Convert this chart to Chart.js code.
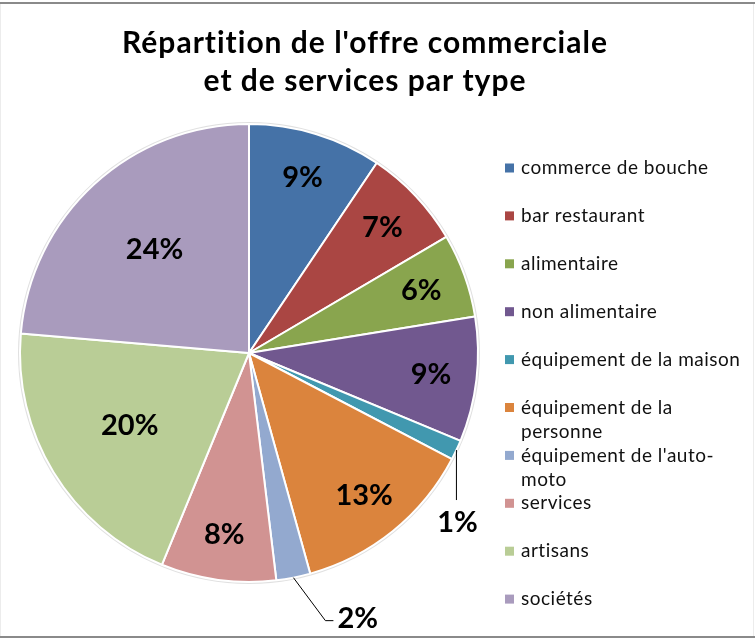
<!DOCTYPE html>
<html lang="fr">
<head>
<meta charset="utf-8">
<title>Répartition de l'offre commerciale et de services par type</title>
<script src="https://cdn.jsdelivr.net/npm/chart.js@4.4.1/dist/chart.umd.min.js"></script>
<style>
  html, body { margin: 0; padding: 0; background: #fff; }
  #wrap { position: relative; width: 755px; height: 639px; }
</style>
</head>
<body>
<div id="wrap"><canvas id="offreChart"></canvas></div>
<script>
const titleLines = ["Répartition de l'offre commerciale", "et de services par type"];
const categories = [
  'commerce de bouche', 'bar restaurant', 'alimentaire', 'non alimentaire',
  'équipement de la maison', 'équipement de la personne', "équipement de l'auto-moto",
  'services', 'artisans', 'sociétés'
];
const shares = [9.4, 7.1, 5.9, 8.8, 1.4, 13.0, 2.4, 8.1, 20.1, 23.6];
const colors = ['#4572A7', '#AA4643', '#89A54E', '#71588F', '#4198AF',
                '#DB843D', '#93A9CF', '#D19392', '#B9CD96', '#A99BBD'];

const FONT = 'Lato, "Open Sans", sans-serif';

// callouts for the thin slices: elbow offset from the rim, then horizontal run
const callouts = {
  4: { dx: 0, dy: 50, run: 0 },
  6: { dx: 32, dy: 43, run: 8 }
};

function pct(i) {
  const total = shares.reduce((a, b) => a + b, 0);
  return Math.round(shares[i] / total * 100) + '%';
}

function wrapText(ctx, text, maxW) {
  const tokens = [];
  text.split(' ').forEach((w, i) => {
    w.split(/(?<=-)/).forEach((p, j) => tokens.push({ text: p, sep: (j === 0 && i > 0) ? ' ' : '' }));
  });
  const lines = [];
  let cur = '';
  tokens.forEach(t => {
    const trial = cur ? cur + t.sep + t.text : t.text;
    if (cur && ctx.measureText(trial).width > maxW) { lines.push(cur); cur = t.text; }
    else cur = trial;
  });
  if (cur) lines.push(cur);
  return lines;
}

const framePlugin = {
  id: 'frame',
  beforeDraw(chart) {
    const ctx = chart.ctx;
    ctx.save();
    ctx.fillStyle = '#fff';
    ctx.fillRect(0, 0, chart.width, chart.height);
    ctx.fillStyle = '#8a8a8a';
    ctx.fillRect(0, 2, chart.width, 2);
    ctx.fillRect(0, chart.height - 3, chart.width, 2);
    ctx.fillStyle = '#ececec';
    ctx.fillRect(0, 4, 1, chart.height - 7);
    ctx.fillRect(chart.width - 2, 4, 1, chart.height - 7);
    ctx.restore();
  }
};

const rimPlugin = {
  id: 'rim',
  beforeDatasetsDraw(chart) {
    const arc = chart.getDatasetMeta(0).data[0];
    if (!arc) return;
    const { x, y, outerRadius } = arc.getProps(['x', 'y', 'outerRadius'], true);
    const ctx = chart.ctx;
    ctx.save();
    ctx.beginPath();
    ctx.arc(x, y, outerRadius + 1, 0, Math.PI * 2);
    ctx.strokeStyle = 'rgba(0,0,0,0.12)';
    ctx.lineWidth = 2;
    ctx.stroke();
    ctx.restore();
  }
};

const sliceLabels = {
  id: 'sliceLabels',
  afterDatasetsDraw(chart) {
    const ctx = chart.ctx;
    const meta = chart.getDatasetMeta(0);
    ctx.save();
    ctx.font = 'bold 29px ' + FONT;
    ctx.fillStyle = '#000';
    meta.data.forEach((arc, i) => {
      const p = arc.getProps(['x', 'y', 'startAngle', 'endAngle', 'outerRadius'], true);
      const mid = (p.startAngle + p.endAngle) / 2;
      const c = callouts[i];
      if (c) {
        const sx = p.x + Math.cos(mid) * p.outerRadius;
        const sy = p.y + Math.sin(mid) * p.outerRadius;
        const ex = sx + c.dx, ey = sy + c.dy;
        ctx.beginPath();
        ctx.moveTo(sx, sy);
        ctx.lineTo(ex, ey);
        ctx.lineTo(ex + c.run, ey);
        ctx.strokeStyle = '#000';
        ctx.lineWidth = 1;
        ctx.stroke();
        if (c.run > 0) {
          ctx.textAlign = 'left';
          ctx.textBaseline = 'middle';
          ctx.fillText(pct(i), ex + c.run + 4, ey - 2);
        } else {
          ctx.textAlign = 'center';
          ctx.textBaseline = 'middle';
          ctx.fillText(pct(i), ex + 1, ey + 23);
        }
        return;
      }
      const r = p.outerRadius * (shares[i] >= 15 ? 0.61 : 0.8);
      ctx.textAlign = 'center';
      ctx.textBaseline = 'middle';
      ctx.fillText(pct(i), p.x + Math.cos(mid) * r, p.y + Math.sin(mid) * r);
    });
    ctx.restore();
  }
};

const titleAndLegend = {
  id: 'titleAndLegend',
  afterDraw(chart) {
    const ctx = chart.ctx;
    ctx.save();
    // title
    ctx.font = 'bold 30px ' + FONT;
    ctx.letterSpacing = '1px';
    ctx.fillStyle = '#000';
    ctx.textAlign = 'center';
    ctx.textBaseline = 'middle';
    titleLines.forEach((t, k) => ctx.fillText(t, 365, 43 + k * 38));
    // legend
    ctx.font = '19px ' + FONT;
    ctx.letterSpacing = '0.5px';
    ctx.textAlign = 'left';
    categories.forEach((name, i) => {
      const y = 168 + i * 47.9;
      ctx.fillStyle = colors[i];
      ctx.fillRect(505, y - 4.5, 9, 9);
      ctx.fillStyle = '#111';
      wrapText(ctx, name, 225).forEach((line, k) => ctx.fillText(line, 521, y + k * 24.5));
    });
    ctx.restore();
  }
};

new Chart(document.getElementById('offreChart'), {
  type: 'pie',
  data: {
    labels: categories,
    datasets: [{
      data: shares,
      backgroundColor: colors,
      borderColor: '#fff',
      borderWidth: 2,
      hoverOffset: 0
    }]
  },
  options: {
    responsive: true,
    maintainAspectRatio: false,
    animation: false,
    layout: { padding: { left: 19, right: 276, top: 123, bottom: 56 } },
    plugins: {
      legend: { display: false },
      title: { display: false },
      tooltip: { enabled: false }
    }
  },
  plugins: [framePlugin, rimPlugin, sliceLabels, titleAndLegend]
});
</script>
</body>
</html>
